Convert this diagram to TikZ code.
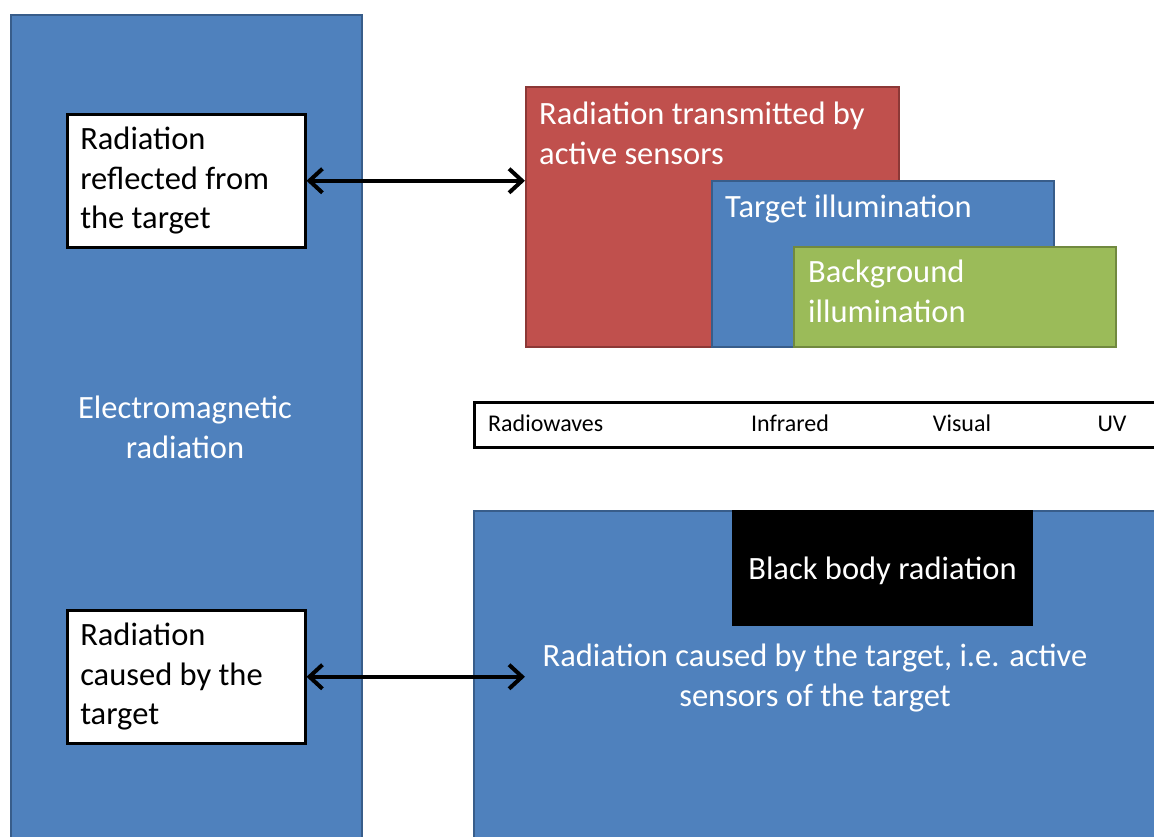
\documentclass[tikz,border=0pt]{standalone}
\usepackage{fontspec}
\setmainfont{Carlito}
\usetikzlibrary{arrows.meta}
\definecolor{bluef}{HTML}{4F81BD}
\definecolor{blued}{HTML}{385D8A}
\definecolor{redf}{HTML}{C0504D}
\definecolor{redd}{HTML}{8C3836}
\definecolor{greenf}{HTML}{9BBB59}
\definecolor{greend}{HTML}{71893F}
\begin{document}
\begin{tikzpicture}[x=1pt,y=-1pt,
  panel/.style={rectangle, line width=2pt, inner sep=0pt, anchor=north west},
  bluebox/.style={panel, fill=bluef, draw=blued},
  redbox/.style={panel, fill=redf, draw=redd},
  greenbox/.style={panel, fill=greenf, draw=greend},
  whitebox/.style={panel, fill=white, draw=black, line width=2.5pt, align=flush left,
    text width=212pt, inner xsep=13pt, minimum width=238pt, minimum height=133pt,
    font=\fontsize{32.5}{39.5}\selectfont},
  wtext/.style={text=white, inner sep=0pt, font=\fontsize{32.5}{39.5}\selectfont},
  stext/.style={text=black, inner sep=0pt, font=\fontsize{24}{28}\selectfont, anchor=base},
  arr/.style={line width=4pt, {Straight Barb[length=13pt,width=24pt]}-{Straight Barb[length=13pt,width=24pt]}}
]
\useasboundingbox (0,0) rectangle (1154,836);
\clip (0,0) rectangle (1154,836);

% left panel
\node[bluebox, minimum width=351pt, minimum height=850pt] (em) at (10,14) {};
\node[wtext, align=center, anchor=base] (emt) at (185,458) {Electromagnetic\\radiation};

\node[whitebox] (w1) at (66,113) {Radiation\\reflected from\\the target};
\node[whitebox] (w2) at (66,609) {Radiation\\caused by the\\target};

% upper right
\node[redbox, minimum width=373pt, minimum height=260pt] (red) at (525,86) {};
\node[wtext, align=flush left, anchor=base west] (redt) at (539,164) {Radiation transmitted by\\active sensors};
\node[bluebox, minimum width=342pt, minimum height=166pt] (tgt) at (711,180) {};
\node[wtext, anchor=base west] (tgtt) at (725,217) {Target illumination};
\node[greenbox, minimum width=322pt, minimum height=100pt] (bg) at (793,246) {};
\node[wtext, align=flush left, anchor=base west] (bgt) at (808,322) {Background\\illumination};

% spectrum bar
\node[panel, fill=white, draw=black, line width=2.5pt, minimum width=700pt, minimum height=45pt] (bar) at (473,401) {};
\node[stext, anchor=base west] (rw) at (488,431) {Radiowaves};
\node[stext] (ir) at (790,431) {Infrared};
\node[stext] (vis) at (962,431) {Visual};
\node[stext] (uv) at (1112,431) {UV};

% lower right
\node[bluebox, minimum width=700pt, minimum height=360pt] (low) at (473,510) {};
\node[panel, fill=black, minimum width=301pt, minimum height=116pt] (bb) at (731,509) {};
\node[wtext] (bbt) at ([yshift=-3pt]bb.center) {Black body radiation};
\node[wtext, align=center, anchor=base] (lowt) at (815,706) {Radiation caused by the target, i.e. active\\sensors of the target};

% connectors
\coordinate (a1) at (red.west |- w1.east);
\coordinate (a2) at (525,677);
\draw[arr] (w1.east) -- (a1);
\draw[arr] (w2.east) -- (a2 |- w2.east);
\end{tikzpicture}
\end{document}
